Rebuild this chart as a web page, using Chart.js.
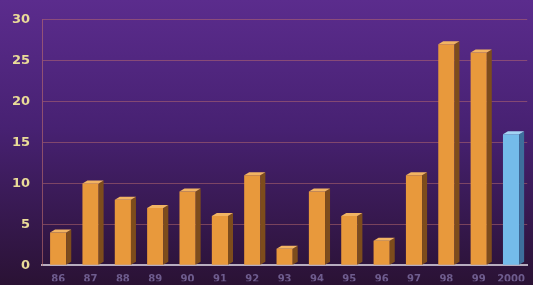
<!DOCTYPE html>
<html>
<head>
<meta charset="utf-8">
<script src="https://cdn.jsdelivr.net/npm/chart.js@4"></script>
<style>
  html, body { margin: 0; padding: 0; background: #2b1236; }
  #wrap { width: 533px; height: 285px; }
</style>
</head>
<body>
<div id="wrap"><canvas id="myChart" width="533" height="285"></canvas></div>
<script>
// datos
const anios = ["86", "87", "88", "89", "90", "91", "92", "93", "94", "95", "96", "97", "98", "99", "2000"]
const valores = [4, 10, 8, 7, 9, 6, 11, 2, 9, 6, 3, 11, 27, 26, 16]
const ticksY = [0, 5, 10, 15, 20, 25, 30]

const frente = anios.map(a => a === "2000" ? "#74bbea" : "#e8993c")
const lado = anios.map(a => a === "2000" ? "#3d6f9c" : "#7d4c1c")
const tapa = anios.map(a => a === "2000" ? "#a4d4f4" : "#f2b463")

// fondo degradado
const fondo = {
    id: "fondo",
    beforeDraw(chart) {
        const ctx = chart.ctx
        const g = ctx.createLinearGradient(0, 0, 0, chart.height)
        g.addColorStop(0, "#5b2c8d")
        g.addColorStop(0.45, "#472172")
        g.addColorStop(1, "#2a1234")
        ctx.save()
        ctx.fillStyle = g
        ctx.fillRect(0, 0, chart.width, chart.height)
        ctx.restore()
    }
}

// efecto 3D: cara lateral y tapa de cada barra
const barras3d = {
    id: "barras3d",
    afterDatasetsDraw(chart) {
        const ctx = chart.ctx
        const d = 5, dy = 3
        const meta = chart.getDatasetMeta(0)
        meta.data.forEach((bar, i) => {
            const p = bar.getProps(["x", "y", "base", "width"], true)
            const l = p.x - p.width / 2
            const r = p.x + p.width / 2
            ctx.save()
            ctx.fillStyle = lado[i]
            ctx.beginPath()
            ctx.moveTo(r, p.y)
            ctx.lineTo(r + d, p.y - dy)
            ctx.lineTo(r + d, p.base - dy)
            ctx.lineTo(r, p.base)
            ctx.closePath()
            ctx.fill()
            ctx.fillStyle = tapa[i]
            ctx.beginPath()
            ctx.moveTo(l, p.y)
            ctx.lineTo(l + d, p.y - dy)
            ctx.lineTo(r + d, p.y - dy)
            ctx.lineTo(r, p.y)
            ctx.closePath()
            ctx.fill()
            ctx.restore()
        })
    }
}

const grafica = document.getElementById("myChart").getContext("2d")

const myChart = new Chart(grafica, {
    type: "bar",
    data: {
        labels: anios,
        datasets: [
            {
                data: valores,
                backgroundColor: frente,
                borderWidth: 0,
                barPercentage: 0.5,
                categoryPercentage: 1
            }
        ]
    },
    plugins: [fondo, barras3d],
    options: {
        responsive: false,
        animation: false,
        layout: {
            padding: { top: 18, right: 1, left: 0, bottom: 0 }
        },
        plugins: {
            legend: { display: false },
            title: { display: false },
            tooltip: { enabled: false }
        },
        scales: {
            x: {
                afterFit(scale) {
                    scale.height = 16
                },
                grid: { display: false, drawTicks: false },
                border: { display: true, color: "#b8adbf", width: 2 },
                ticks: {
                    color: "#6e5c8e",
                    font: { family: "DejaVu Sans", size: 10, weight: "bold" },
                    padding: 8,
                    maxRotation: 0,
                    autoSkip: false
                }
            },
            y: {
                min: 0,
                max: 30,
                afterBuildTicks(scale) {
                    scale.ticks = ticksY.map(v => ({ value: v }))
                },
                afterFit(scale) {
                    scale.width = 42
                },
                grid: {
                    color: ctx => ctx.tick && ctx.tick.value === 0 ? "rgba(0,0,0,0)" : "rgba(190,110,110,0.5)",
                    lineWidth: 1,
                    drawTicks: false
                },
                border: { display: true, color: "rgba(190,110,110,0.6)", width: 1 },
                ticks: {
                    color: "#eadb98",
                    font: { family: "DejaVu Sans", size: 13, weight: "bold" },
                    padding: 12
                }
            }
        }
    }
})
</script>
</body>
</html>
